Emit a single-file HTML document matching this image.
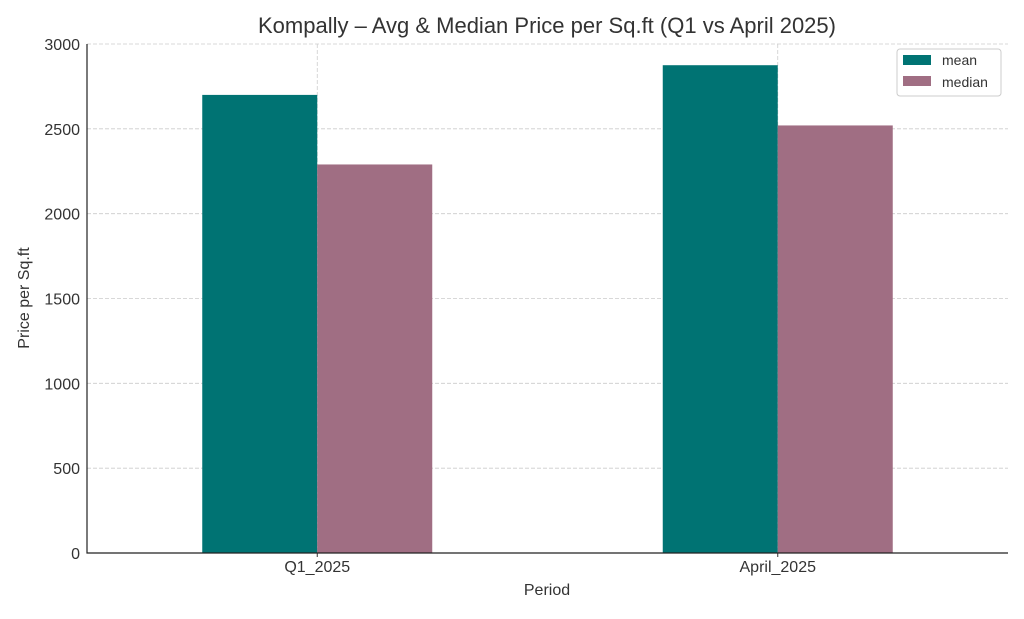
<!DOCTYPE html>
<html><head><meta charset="utf-8"><style>
body{margin:0;background:#fff;width:1024px;height:614px;overflow:hidden;font-family:"Liberation Sans","DejaVu Sans",sans-serif}
</style></head><body>
<svg id="chart" width="1024" height="614" xmlns="http://www.w3.org/2000/svg"></svg>
<script>
const categories = ["Q1_2025", "April_2025"];
const meanValues = [2700, 2875];
const medianValues = [2290, 2520];
const yTicks = [0, 500, 1000, 1500, 2000, 2500, 3000];
const seriesNames = ["mean", "median"];

const svg = document.getElementById('chart');
const NS = 'http://www.w3.org/2000/svg';
const L = 87, R = 1008, T = 44, B = 553;
const yMax = 3000;
function y(v){ return B - (v / yMax) * (B - T); }
function x(i){ return L + (i + 0.5) / 2 * (R - L); }
const bw = 115;
function mk(tag, attrs, parent){
  const e = document.createElementNS(NS, tag);
  for (const k in attrs) e.setAttribute(k, attrs[k]);
  (parent || svg).appendChild(e);
  return e;
}
// gridlines
yTicks.forEach(t => {
  const g = mk('line', {x1:L, x2:R, y1:y(t), y2:y(t), stroke:'#ccc', 'stroke-width':0.8, 'stroke-dasharray':'4,2'});
  
  
  const tl = mk('text', {x:L-7, y:y(t)+6, 'text-anchor':'end', 'font-size':16, fill:'#333'});
  tl.textContent = t;
  
  
});
categories.forEach((c, i) => {
  const g = mk('line', {x1:x(i), x2:x(i), y1:T, y2:B, stroke:'#ccc', 'stroke-width':0.8, 'stroke-dasharray':'4,2'});
  
  
});
// bars
categories.forEach((c, i) => {
  const b1 = mk('rect', {x:x(i)-bw, y:y(meanValues[i]), width:bw, height:B-y(meanValues[i]), fill:'#007373'});
  
  
  const b2 = mk('rect', {x:x(i), y:y(medianValues[i]), width:bw, height:B-y(medianValues[i]), fill:'#a06e83'});
  
  
  const tl = mk('text', {x:x(i), y:572, 'text-anchor':'middle', 'font-size':16, fill:'#333'});
  tl.textContent = c;
  
  
  const tk = mk('line', {x1:x(i), x2:x(i), y1:B, y2:B+4, stroke:'#333'});
  
  
});
// axes
const ax = mk('path', {d:`M${L} ${T} L${L} ${B} L${R} ${B}`, fill:'none', stroke:'#222', 'stroke-width':1.2});


</script>
<svg style="position:absolute;left:0;top:0" width="1024" height="614" xmlns="http://www.w3.org/2000/svg">
<text x="547" y="33" text-anchor="middle" font-size="22" fill="#333">Kompally – Avg &amp; Median Price per Sq.ft (Q1 vs April 2025)</text>
<text x="547" y="595" text-anchor="middle" font-size="16" fill="#333">Period</text>
<text transform="translate(29,298) rotate(-90)" text-anchor="middle" font-size="16" fill="#333">Price per Sq.ft</text>
<g>
<rect x="897" y="49" width="104" height="47" rx="3" fill="#fff" stroke="#ccc"/>
<rect x="903" y="55" width="28" height="10" fill="#007373"/>
<text x="942" y="65" font-size="14" fill="#333">mean</text>
<rect x="903" y="76" width="28" height="10" fill="#a06e83"/>
<text x="942" y="87" font-size="14" fill="#333">median</text>
</g>
</svg>
</body></html>
